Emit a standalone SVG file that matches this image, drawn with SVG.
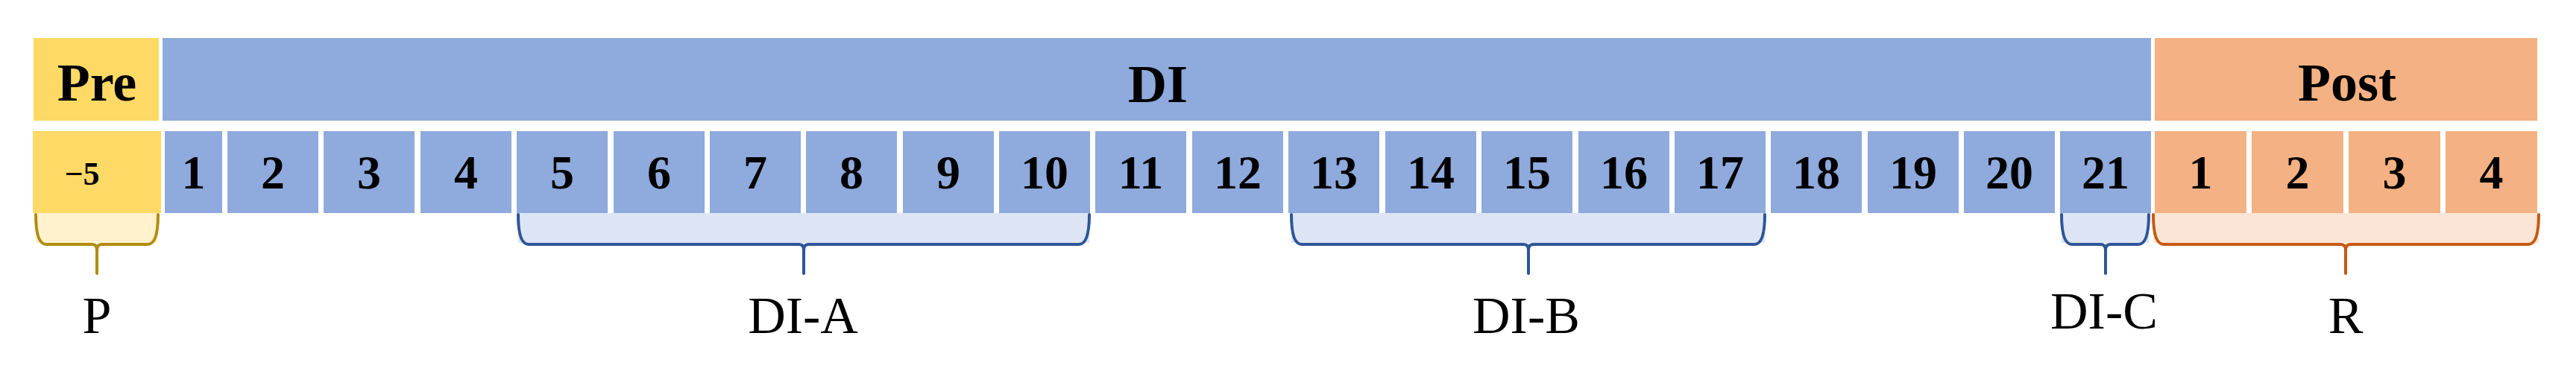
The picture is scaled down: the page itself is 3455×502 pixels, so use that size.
<svg xmlns="http://www.w3.org/2000/svg" width="3455" height="502" viewBox="0 0 3455 502">
<style>
.bg{fill:#ffffff}
.blue{fill:#8FAADC}
.yel{fill:#FFD966}
.org{fill:#F4B183}
.hd{font-family:"Liberation Serif","Times New Roman",serif;font-weight:bold;font-size:72px;fill:#000;text-anchor:middle}
.num{font-family:"Liberation Serif","Times New Roman",serif;font-weight:bold;font-size:64px;fill:#000;text-anchor:middle}
.lbl{font-family:"Liberation Serif","Times New Roman",serif;font-size:70px;fill:#000;text-anchor:middle}
.br{fill:none;stroke-width:4;stroke-linejoin:round;stroke-linecap:round}
.bY{stroke:#B08C12}.fY{fill:#FFF2CC}
.bB{stroke:#2F5597}.fB{fill:#DDE5F4}
.bO{stroke:#C55A11}.fO{fill:#FBE5D6}
</style>
<rect class="bg" x="0" y="0" width="3455" height="502"/>
<g id="pre">
<rect class="yel" x="45" y="51" width="168" height="111"/>
<text class="hd" x="130" y="135">Pre</text>
</g>
<g id="di">
<rect class="blue" x="218" y="51" width="2667" height="111"/>
<text class="hd" x="1553" y="137">DI</text>
</g>
<g id="post">
<rect class="org" x="2890" y="51" width="513" height="111"/>
<text class="hd" x="3148" y="135">Post</text>
</g>
<g id="pre-cells">
<rect class="yel" x="44" y="176" width="172" height="110"/>
<text class="num" x="110" y="248" style="font-size:44px">−5</text>
</g>
<g id="di-cells">
<rect class="blue" x="221" y="176" width="77" height="110"/><text class="num" x="259.5" y="253">1</text>
<rect class="blue" x="305" y="176" width="122" height="110"/><text class="num" x="366" y="253">2</text>
<rect class="blue" x="434" y="176" width="122" height="110"/><text class="num" x="495" y="253">3</text>
<rect class="blue" x="564" y="176" width="122" height="110"/><text class="num" x="625" y="253">4</text>
<rect class="blue" x="693" y="176" width="122" height="110"/><text class="num" x="754" y="253">5</text>
<rect class="blue" x="823" y="176" width="122" height="110"/><text class="num" x="884" y="253">6</text>
<rect class="blue" x="952" y="176" width="122" height="110"/><text class="num" x="1013" y="253">7</text>
<rect class="blue" x="1081" y="176" width="122" height="110"/><text class="num" x="1142" y="253">8</text>
<rect class="blue" x="1211" y="176" width="122" height="110"/><text class="num" x="1272" y="253">9</text>
<rect class="blue" x="1340" y="176" width="122" height="110"/><text class="num" x="1401" y="253">10</text>
<rect class="blue" x="1469" y="176" width="122" height="110"/><text class="num" x="1530" y="253">11</text>
<rect class="blue" x="1599" y="176" width="122" height="110"/><text class="num" x="1660" y="253">12</text>
<rect class="blue" x="1728" y="176" width="122" height="110"/><text class="num" x="1789" y="253">13</text>
<rect class="blue" x="1858" y="176" width="122" height="110"/><text class="num" x="1919" y="253">14</text>
<rect class="blue" x="1987" y="176" width="122" height="110"/><text class="num" x="2048" y="253">15</text>
<rect class="blue" x="2117" y="176" width="122" height="110"/><text class="num" x="2178" y="253">16</text>
<rect class="blue" x="2246" y="176" width="122" height="110"/><text class="num" x="2307" y="253">17</text>
<rect class="blue" x="2375" y="176" width="122" height="110"/><text class="num" x="2436" y="253">18</text>
<rect class="blue" x="2505" y="176" width="122" height="110"/><text class="num" x="2566" y="253">19</text>
<rect class="blue" x="2634" y="176" width="122" height="110"/><text class="num" x="2695" y="253">20</text>
<rect class="blue" x="2763" y="176" width="122" height="110"/><text class="num" x="2824" y="253">21</text>
</g>
<g id="post-cells">
<rect class="org" x="2890" y="176" width="123" height="110"/><text class="num" x="2951.5" y="253">1</text>
<rect class="org" x="3020" y="176" width="123" height="110"/><text class="num" x="3081.5" y="253">2</text>
<rect class="org" x="3150" y="176" width="123" height="110"/><text class="num" x="3211.5" y="253">3</text>
<rect class="org" x="3280" y="176" width="123" height="110"/><text class="num" x="3341.5" y="253">4</text>
</g>
<g id="connectors">
<rect class="fY" x="48" y="286" width="164" height="40"/>
<path class="br bY" d="M48,288 Q48,328 62,328 H124 Q130,328 130,336 V367 M130,336 Q130,328 136,328 H198 Q212,328 212,288"/>
<rect class="fB" x="695" y="286" width="766" height="40"/>
<path class="br bB" d="M695,288 Q695,328 709,328 H1072 Q1078,328 1078,336 V367 M1078,336 Q1078,328 1084,328 H1447 Q1461,328 1461,288"/>
<rect class="fB" x="1732" y="286" width="635" height="40"/>
<path class="br bB" d="M1732,288 Q1732,328 1746,328 H2044 Q2050,328 2050,336 V367 M2050,336 Q2050,328 2056,328 H2353 Q2367,328 2367,288"/>
<rect class="fB" x="2765" y="286" width="117" height="40"/>
<path class="br bB" d="M2765,288 Q2765,328 2779,328 H2818 Q2824,328 2824,336 V367 M2824,336 Q2824,328 2830,328 H2868 Q2882,328 2882,288"/>
<rect class="fO" x="2888" y="286" width="517" height="40"/>
<path class="br bO" d="M2888,288 Q2888,328 2902,328 H3140 Q3146,328 3146,336 V367 M3146,336 Q3146,328 3152,328 H3391 Q3405,328 3405,288"/>
</g>
<g id="label-p"><text class="lbl" x="130" y="447">P</text></g>
<g id="label-dia"><text class="lbl" x="1077" y="447">DI-A</text></g>
<g id="label-dib"><text class="lbl" x="2047" y="447">DI-B</text></g>
<g id="label-dic"><text class="lbl" x="2822" y="441">DI-C</text></g>
<g id="label-r"><text class="lbl" x="3146" y="447">R</text></g>
</svg>
